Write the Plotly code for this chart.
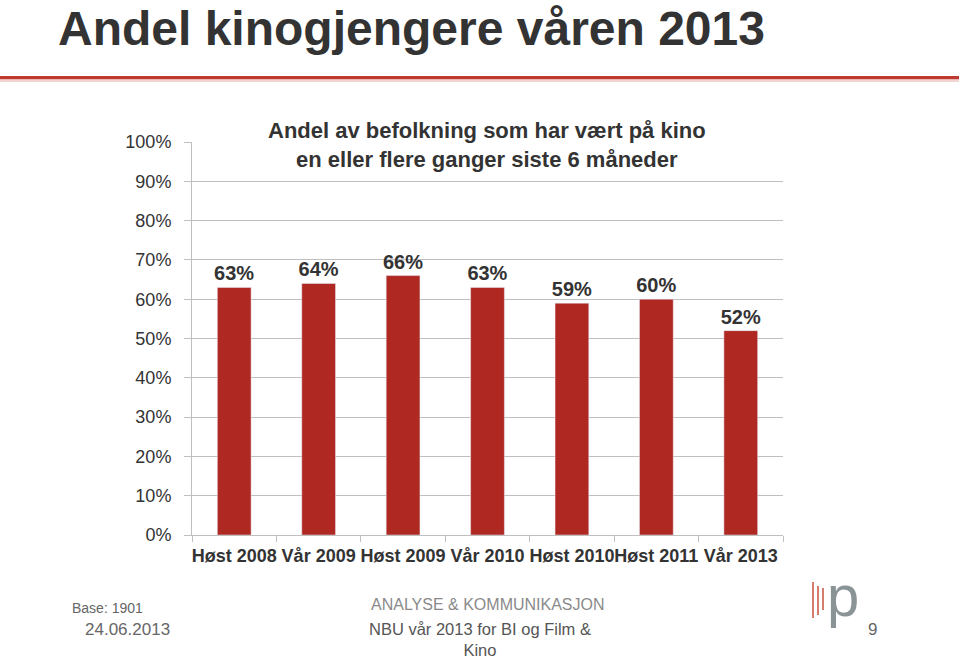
import plotly.graph_objects as go

categories = ["Høst 2008", "Vår 2009", "Høst 2009", "Vår 2010", "Høst 2010", "Høst 2011", "Vår 2013"]
values = [0.63, 0.64, 0.66, 0.63, 0.59, 0.60, 0.52]
labels = ["63%", "64%", "66%", "63%", "59%", "60%", "52%"]
ytick_vals = [0, 0.1, 0.2, 0.3, 0.4, 0.5, 0.6, 0.7, 0.8, 0.9, 1.0]
ytick_text = ["0%", "10%", "20%", "30%", "40%", "50%", "60%", "70%", "80%", "90%", "100%"]

BAR = "#AF2822"
GRID = "#BFBFBF"
TXT = "#333333"
FONT = "Liberation Sans, Arial, sans-serif"

W, H = 959, 660
L, R, T, B = 192, 176, 142, 125
pw, ph = W - L - R, H - T - B

fig = go.Figure(go.Bar(
    x=categories, y=values, text=labels, textposition="outside",
    texttemplate="<b>%{text}</b>", constraintext="none",
    textfont=dict(family=FONT, size=20, color=TXT), marker_color=BAR,
    width=0.4, cliponaxis=False,
))

fig.update_layout(
    width=W, height=H,
    margin=dict(l=L, r=R, t=T, b=B, autoexpand=False),
    paper_bgcolor="white", plot_bgcolor="white",
    showlegend=False,
    font=dict(family=FONT, color=TXT),
    xaxis=dict(
        range=[-0.5, 6.5], showgrid=False, showline=True, linecolor=GRID, linewidth=1,
        ticks="outside", tickson="boundaries", ticklen=6, tickcolor=GRID,
        tickvals=categories, ticktext=["<b>%s</b>" % c for c in categories],
        tickangle=0, automargin=False, ticklabelstandoff=4,
        tickfont=dict(family=FONT, size=18, color=TXT), fixedrange=True,
    ),
    yaxis=dict(
        range=[0, 1], tickvals=ytick_vals, ticktext=ytick_text,
        showgrid=True, gridcolor=GRID, gridwidth=1, zeroline=False,
        showline=True, linecolor=GRID, linewidth=1,
        ticks="outside", ticklen=7, tickcolor=GRID, ticklabelstandoff=9,
        automargin=False,
        tickfont=dict(family=FONT, size=18, color=TXT), fixedrange=True,
    ),
)

NARROW = "Liberation Sans Narrow, Liberation Sans, sans-serif"
ann = []
ann.append(dict(text="<b>Andel kinogjengere våren 2013</b>", x=57, y=1, xanchor="left", yanchor="top",
                borderpad=0, font=dict(family=FONT, size=48, color="#333333")))
ann.append(dict(text="<b>Andel av befolkning som har vært på kino<br>en eller flere ganger siste 6 måneder</b>",
                x=487, y=145, xanchor="center", yanchor="middle",
                font=dict(family=FONT, size=22, color=TXT)))
ann.append(dict(text="Base: 1901", x=70, y=608, xanchor="left", yanchor="middle",
                font=dict(family=NARROW, size=14, color="#666666")))
ann.append(dict(text="24.06.2013", x=83, y=629, xanchor="left", yanchor="middle",
                font=dict(family=NARROW, size=17, color="#666666")))
ann.append(dict(text="ANALYSE &amp; KOMMUNIKASJON", x=488, y=604, xanchor="center", yanchor="middle",
                font=dict(family=NARROW, size=16, color="#8A8A8A")))
ann.append(dict(text="NBU vår 2013 for BI og Film &amp;<br>Kino", x=480, y=639, xanchor="center", yanchor="middle",
                borderpad=0, font=dict(family=NARROW, size=16.5, color="#555555")))
ann.append(dict(text="9", x=872, y=629, xanchor="center", yanchor="middle",
                font=dict(family=FONT, size=17, color="#666666")))
ann.append(dict(text="p", x=843, y=595, xanchor="center", yanchor="middle",
                font=dict(family=FONT, size=58, color="#8A9496")))
for a in ann:
    a["xref"] = "paper"
    a["yref"] = "paper"
    a["showarrow"] = False
    a["x"] = (a["x"] - L) / pw
    a["y"] = (H - a["y"] - B) / ph
fig.update_layout(annotations=ann)

def px(xp, yp):
    return (xp - L) / pw, (H - yp - B) / ph

shapes = []
x0, y0 = px(0, 76)
x1, y1 = px(959, 79.5)
shapes.append(dict(type="rect", xref="paper", yref="paper", x0=x0, x1=x1, y0=y1, y1=y0,
                   fillcolor="#C0392F", line=dict(width=0)))
x0, y0 = px(0, 79.5)
x1, y1 = px(959, 82)
shapes.append(dict(type="rect", xref="paper", yref="paper", x0=x0, x1=x1, y0=y1, y1=y0,
                   fillcolor="#F2D5D2", line=dict(width=0)))
for (lx, ly0, ly1, col) in [(813, 582, 618, "#C8503F"), (818, 586, 615, "#C8503F"), (823, 588, 610, "#C8503F")]:
    xa, ya = px(lx, ly0)
    xb, yb = px(lx, ly1)
    shapes.append(dict(type="line", xref="paper", yref="paper", x0=xa, x1=xb, y0=ya, y1=yb,
                       line=dict(color=col, width=1.5)))
fig.update_layout(shapes=shapes)

fig.write_html("out.html", config={"displayModeBar": False},
               post_script="document.body.style.margin='0';document.body.style.overflow='hidden';")
